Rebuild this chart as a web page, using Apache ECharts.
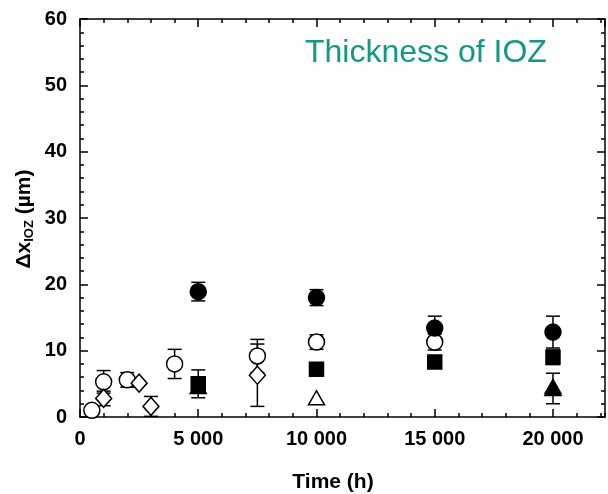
<!DOCTYPE html>
<html>
<head>
<meta charset="utf-8">
<script src="https://cdn.jsdelivr.net/npm/echarts@6/dist/echarts.min.js"></script>
<style>
  html, body { margin: 0; padding: 0; background: #fff; }
  #chart { width: 608px; height: 494px; }
</style>
</head>
<body>
<div id="chart"></div>
<script>
// Thickness growth of the internal oxidation zone (IOZ) over exposure time.
// Each group: times (h), mean thickness (µm), half-width of the error bar (µm).
const filledCircleTime = [5000, 10000, 15000, 20000];
const filledCircleVal  = [18.9, 18.0, 13.4, 12.8];
const filledCircleErr  = [1.4, 1.2, 1.8, 2.4];

const openCircleTime = [500, 1000, 2000, 4000, 7500, 10000, 15000];
const openCircleVal  = [1.0, 5.3, 5.6, 8.0, 9.2, 11.3, 11.3];
const openCircleErr  = [0, 1.7, 1.1, 2.2, 2.5, 1.1, 1.2];

const filledSquareTime = [5000, 10000, 15000, 20000];
const filledSquareVal  = [5.0, 7.2, 8.3, 9.0];
const filledSquareErr  = [2.1, 0, 0, 1.1];

const openDiamondTime = [1000, 2500, 3000, 7500];
const openDiamondVal  = [2.8, 5.1, 1.6, 6.3];
const openDiamondErr  = [1.1, 0, 1.5, 4.7];

const openTriangleTime = [10000, 20000];
const openTriangleVal  = [2.9, 4.6];
const openTriangleErr  = [0, 0];

const filledTriangleTime = [5000, 20000];
const filledTriangleVal  = [4.6, 4.3];
const filledTriangleErr  = [0, 2.3];

const xTickLabels = ['0', '5 000', '10 000', '15 000', '20 000'];
const xMax = 22200;

const FONT = '"Liberation Sans", Arial, sans-serif';

function points(t, v) { return t.map((x, i) => [x, v[i]]); }
function bars(t, v, e) {
  const out = [];
  t.forEach((x, i) => { if (e[i] > 0) out.push([x, v[i], e[i]]); });
  return out;
}

const errorData = [].concat(
  bars(openCircleTime, openCircleVal, openCircleErr),
  bars(openDiamondTime, openDiamondVal, openDiamondErr),
  bars(openTriangleTime, openTriangleVal, openTriangleErr),
  bars(filledTriangleTime, filledTriangleVal, filledTriangleErr),
  bars(filledSquareTime, filledSquareVal, filledSquareErr),
  bars(filledCircleTime, filledCircleVal, filledCircleErr)
);

const line = { color: '#000', width: 1.5 };

function xAxisDef(position, interval, tickLen, showLine, showLabel) {
  return {
    type: 'value', position: position, min: 0, max: xMax, interval: interval,
    axisLine: { show: showLine, onZero: false, lineStyle: line },
    axisTick: { show: true, inside: true, length: tickLen, lineStyle: line },
    splitLine: { show: false },
    axisLabel: {
      show: showLabel, margin: 12, color: '#000', fontSize: 20, fontWeight: 'bold',
      fontFamily: FONT, showMaxLabel: false,
      formatter: v => (v % 5000 === 0 ? xTickLabels[v / 5000] : '')
    }
  };
}

function yAxisDef(position, showLabel) {
  return {
    type: 'value', position: position, min: 0, max: 60, interval: 10,
    axisLine: { show: true, onZero: false, lineStyle: line },
    axisTick: { show: true, inside: true, length: 8, lineStyle: line },
    minorTick: { show: true, splitNumber: 5, length: 4, lineStyle: line },
    splitLine: { show: false },
    axisLabel: {
      show: showLabel, margin: 13, color: '#000', fontSize: 20, fontWeight: 'bold',
      fontFamily: FONT
    }
  };
}

function marker(name, data, symbol, size, filled, z) {
  return {
    name: name, type: 'scatter', data: data, symbol: symbol, symbolSize: size,
    clip: false, z: z, silent: true,
    itemStyle: { color: filled ? '#000' : '#fff', borderColor: '#000', borderWidth: 1.5, opacity: 1 }
  };
}

const chart = echarts.init(document.getElementById('chart'), null, { renderer: 'canvas' });

chart.setOption({
  animation: false,
  backgroundColor: '#fff',
  grid: { left: 80, top: 19, right: 3, bottom: 77 },
  xAxis: [
    xAxisDef('bottom', 5000, 8, true, true),
    xAxisDef('bottom', 1000, 4, false, false),
    xAxisDef('top', 5000, 8, true, false),
    xAxisDef('top', 1000, 4, false, false)
  ],
  yAxis: [yAxisDef('left', true), yAxisDef('right', false)],
  graphic: [
    {
      type: 'text', left: 305, top: 37, z: 10,
      style: { text: 'Thickness of IOZ', fill: '#0e9a85', fontSize: 32, fontFamily: FONT }
    },
    {
      type: 'text', x: 333, y: 482, z: 10,
      style: {
        text: 'Time (h)', fill: '#000', fontSize: 21, fontWeight: 'bold', fontFamily: FONT,
        align: 'center', verticalAlign: 'middle'
      }
    },
    {
      type: 'text', x: 24, y: 219, rotation: Math.PI / 2, z: 10,
      style: {
        text: '{a|Δx}{b|IOZ}{a| (µm)}',
        align: 'center', verticalAlign: 'middle',
        rich: {
          a: { fontSize: 21, fontWeight: 'bold', fontFamily: FONT, fill: '#000', lineHeight: 24, verticalAlign: 'middle' },
          b: { fontSize: 13, fontWeight: 'bold', fontFamily: FONT, fill: '#000', lineHeight: 10, verticalAlign: 'bottom' }
        }
      }
    }
  ],
  series: [
    {
      name: 'error bars', type: 'custom', z: 1, silent: true, clip: false,
      data: errorData,
      encode: { x: 0, y: 1 },
      renderItem: function (params, api) {
        const x = api.value(0), y = api.value(1), e = api.value(2);
        const hi = api.coord([x, y + e]);
        const lo = api.coord([x, y - e]);
        const cap = 7;
        const st = { stroke: '#000', lineWidth: 1.5 };
        return {
          type: 'group',
          children: [
            { type: 'line', shape: { x1: hi[0], y1: hi[1], x2: lo[0], y2: lo[1] }, style: st },
            { type: 'line', shape: { x1: hi[0] - cap, y1: hi[1], x2: hi[0] + cap, y2: hi[1] }, style: st },
            { type: 'line', shape: { x1: lo[0] - cap, y1: lo[1], x2: lo[0] + cap, y2: lo[1] }, style: st }
          ]
        };
      }
    },
    marker('open circles', points(openCircleTime, openCircleVal), 'circle', 16, false, 2),
    marker('open diamonds', points(openDiamondTime, openDiamondVal), 'diamond', [16, 18], false, 3),
    marker('open triangles', points(openTriangleTime, openTriangleVal), 'triangle', [16, 14], false, 4),
    marker('filled triangles', points(filledTriangleTime, filledTriangleVal), 'triangle', [16, 14], true, 5),
    marker('filled squares', points(filledSquareTime, filledSquareVal), 'rect', 14, true, 6),
    marker('filled circles', points(filledCircleTime, filledCircleVal), 'circle', 16, true, 7)
  ]
});
</script>
</body>
</html>
